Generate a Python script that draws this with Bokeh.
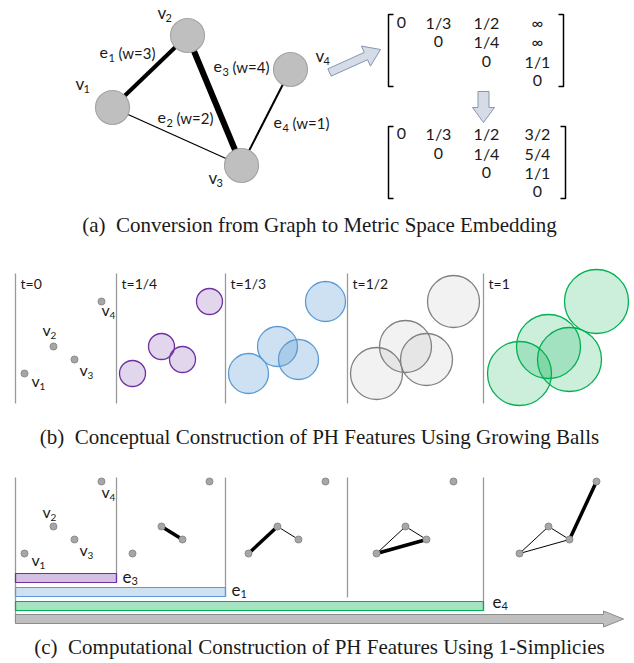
import math
from bokeh.plotting import figure
from bokeh.models import Range1d
from bokeh.embed import file_html
from bokeh.resources import INLINE
from bokeh.core.properties import value

# ---------------- data ----------------
# (a) graph
node_x = [112, 187, 241, 290]          # v1..v4
node_y = [107, 35, 165, 69]
node_r = 17
label_x = [75, 157, 208, 315]
label_y = [89, 18, 183, 61]
node_sub = ["1", "2", "3", "4"]

edge_src = [0, 0, 1, 2]                # e1: v1-v2, e2: v1-v3, e3: v2-v3, e4: v3-v4
edge_dst = [1, 2, 2, 3]
edge_weight = ["(w=3)", "(w=2)", "(w=4)", "(w=1)"]
edge_sub = ["1", "2", "3", "4"]
edge_lw = [4, 1.3, 6, 2]
edge_label_x = [99, 157, 213, 273]
edge_label_y = [58, 123, 72, 128]
edge_t = [1/3, 1/2, 1/4, 1.0]          # metric distances of edges

# matrices
mat_cols_x = [401, 438, 486, 537]
mat1_rows = [["0", "1/3", "1/2", "∞"], ["", "0", "1/4", "∞"], ["", "", "0", "1/1"], ["", "", "", "0"]]
mat1_y = [21, 40, 60, 79]
mat2_rows = [["0", "1/3", "1/2", "3/2"], ["", "0", "1/4", "5/4"], ["", "", "0", "1/1"], ["", "", "", "0"]]
mat2_y = [132, 152, 171, 190]
mat1_box = (388, 563, 14, 86)
mat2_box = (388, 565, 126, 198)

# (b) growing balls
pt_x = [24, 53, 74, 101]
pt_y = [373, 346, 359, 301]
panel_dx = [0, 108, 224, 352, 495]
panel_t = [0, 1/4, 1/3, 1/2, 1.0]
t_labels = ["t=0", "t=1/4", "t=1/3", "t=1/2", "t=1"]
ball_r = [0, 13, 20, 26, 32]
ball_color = [None, "#7030a0", "#5b9bd5", "#808080", "#00b050"]
ball_alpha = [0, 0.2, 0.3, 0.1, 0.2]
sep_x = [15, 116, 225, 347, 483]
b_label_x = [31, 42, 79, 101]
b_label_y = [386, 335, 375, 315]

# (c) 1-simplicies
c_dy = 180
c_label_y = [565, 517, 555, 497]
c_sep_bottom = [623, 582, 596, 597, 610]
bar_names = ["3", "1", "4"]
bar_right = [116, 225, 483]
bar_top = [573, 587, 601]
bar_bottom = [582, 596, 610]
bar_color = ["#7030a0", "#5b9bd5", "#00b050"]
bar_alpha = [0.3, 0.3, 0.35]
bar_label_x = [122, 231, 492]
bar_label_y = [582, 595, 607]

captions = ["(a)\u2002Conversion from Graph to Metric Space Embedding",
            "(b)\u2002Conceptual Construction of PH Features Using Growing Balls",
            "(c)\u2002Computational Construction of PH Features Using 1-Simplicies"]
caption_y = [232, 444, 654]

# ---------------- figure ----------------
W, H = 634, 663
p = figure(width=W, height=H, x_range=Range1d(0, W), y_range=Range1d(H, 0),
           output_backend="svg", toolbar_location=None, min_border=0,
           x_axis_type=None, y_axis_type=None)
p.grid.visible = False
p.outline_line_color = None

SANS = value("Lato")
SERIF = value("Liberation Serif")
TXT = "#1a1a1a"


def txt(xs, ys, texts, size, align="left", baseline="alphabetic", font=SANS):
    px = float(size.replace("px", ""))
    shift = 0.38 * px if baseline == "alphabetic" else 0
    p.text(x=xs, y=[y - shift for y in ys], text=texts, text_font=font, text_font_size=size,
           text_align=align, text_baseline=baseline, text_color=TXT)


def sub_label(main, subs, xs, ys, size_main, size_sub, dx, dy):
    txt(xs, ys, [main] * len(xs), size_main)
    txt([x + dx for x in xs], [y + dy for y in ys], subs, size_sub)


def arrow_poly(x0, y0, x1, y1, sw, hw, hl):
    dx, dy = x1 - x0, y1 - y0
    L = math.hypot(dx, dy)
    ux, uy = dx / L, dy / L
    nx, ny = -uy, ux
    bx, by = x1 - ux * hl, y1 - uy * hl
    pts = [(x0 + nx * sw / 2, y0 + ny * sw / 2), (bx + nx * sw / 2, by + ny * sw / 2),
           (bx + nx * hw / 2, by + ny * hw / 2), (x1, y1),
           (bx - nx * hw / 2, by - ny * hw / 2), (bx - nx * sw / 2, by - ny * sw / 2),
           (x0 - nx * sw / 2, y0 - ny * sw / 2)]
    return [q[0] for q in pts], [q[1] for q in pts]


# ---- (a) graph ----
p.segment(x0=[node_x[i] for i in edge_src], y0=[node_y[i] for i in edge_src],
          x1=[node_x[i] for i in edge_dst], y1=[node_y[i] for i in edge_dst],
          line_width=edge_lw, line_color="black")
p.circle(node_x, node_y, radius=node_r, fill_color="#bfbfbf", line_color="#a6a6a6", line_width=1.2)
sub_label("v", node_sub, label_x, label_y, "17px", "11px", 8, 4)
sub_label("e", edge_sub, edge_label_x, edge_label_y, "16px", "11px", 9, 4)
txt([x + 19 for x in edge_label_x], edge_label_y, edge_weight, "15px")

# arrows
ax, ay = arrow_poly(329, 72, 380, 49, 8, 22, 16)
p.patch(ax, ay, fill_color="#d6dce5", line_color="#8497b0", line_width=1)
ax, ay = arrow_poly(483, 91, 483, 122, 11, 22, 15)
p.patch(ax, ay, fill_color="#d6dce5", line_color="#8497b0", line_width=1)

# matrices
for rows, ys, box in [(mat1_rows, mat1_y, mat1_box), (mat2_rows, mat2_y, mat2_box)]:
    xs, yy, tt = [], [], []
    for r, row in enumerate(rows):
        for c, s in enumerate(row):
            if s:
                xs.append(mat_cols_x[c]); yy.append(ys[r]); tt.append(s)
    txt(xs, [y + 1 for y in yy], tt, "16px", align="center", baseline="middle")
    l, rr, top, bot = box
    p.line([l + 5, l, l, l + 5], [top, top, bot, bot], line_color="black", line_width=1.5)
    p.line([rr - 5, rr, rr, rr - 5], [top, top, bot, bot], line_color="black", line_width=1.5)

# ---- (b) growing balls ----
p.segment(x0=sep_x, y0=[273] * 5, x1=sep_x, y1=[403] * 5, line_color="#9a9a9a", line_width=1.3)
txt([x + 5 for x in sep_x], [288] * 5, t_labels, "14px")
for k in range(1, 5):
    p.circle([x + panel_dx[k] for x in pt_x], pt_y, radius=ball_r[k],
             fill_color=ball_color[k], fill_alpha=ball_alpha[k],
             line_color=ball_color[k], line_width=1.3)
p.scatter(pt_x, pt_y, size=7, fill_color="#a6a6a6", line_color="#8c8c8c")
sub_label("v", node_sub, b_label_x, b_label_y, "16px", "10px", 8, 4)

# ---- (c) 1-simplicies ----
p.segment(x0=sep_x, y0=[477] * 5, x1=sep_x, y1=c_sep_bottom, line_color="#9a9a9a", line_width=1.3)
cy = [y + c_dy for y in pt_y]
for k in range(1, 5):
    for e in range(4):
        if edge_t[e] <= panel_t[k] + 1e-9:
            a, b = edge_src[e], edge_dst[e]
            lw = 3.5 if abs(edge_t[e] - panel_t[k]) < 1e-9 else 1
            p.line([pt_x[a] + panel_dx[k], pt_x[b] + panel_dx[k]], [cy[a], cy[b]],
                   line_color="black", line_width=lw)
for k in range(5):
    p.scatter([x + panel_dx[k] for x in pt_x], cy, size=7, fill_color="#a6a6a6", line_color="#8c8c8c")
sub_label("v", node_sub, b_label_x, c_label_y, "16px", "10px", 8, 4)

p.quad(left=[sep_x[0]] * 3, right=bar_right, top=bar_top, bottom=bar_bottom,
       fill_color=bar_color, fill_alpha=bar_alpha, line_color=bar_color, line_width=1.2)
sub_label("e", bar_names, bar_label_x, bar_label_y, "17px", "11px", 9, 3)
ax, ay = arrow_poly(15, 618.5, 623, 618.5, 9, 16, 20)
p.patch(ax, ay, fill_color="#bfbfbf", line_color="#8c8c8c", line_width=1)

# captions
txt([319] * 3, caption_y, captions, "21px", align="center", font=SERIF)

open("out.html", "w").write(file_html(p, INLINE))
